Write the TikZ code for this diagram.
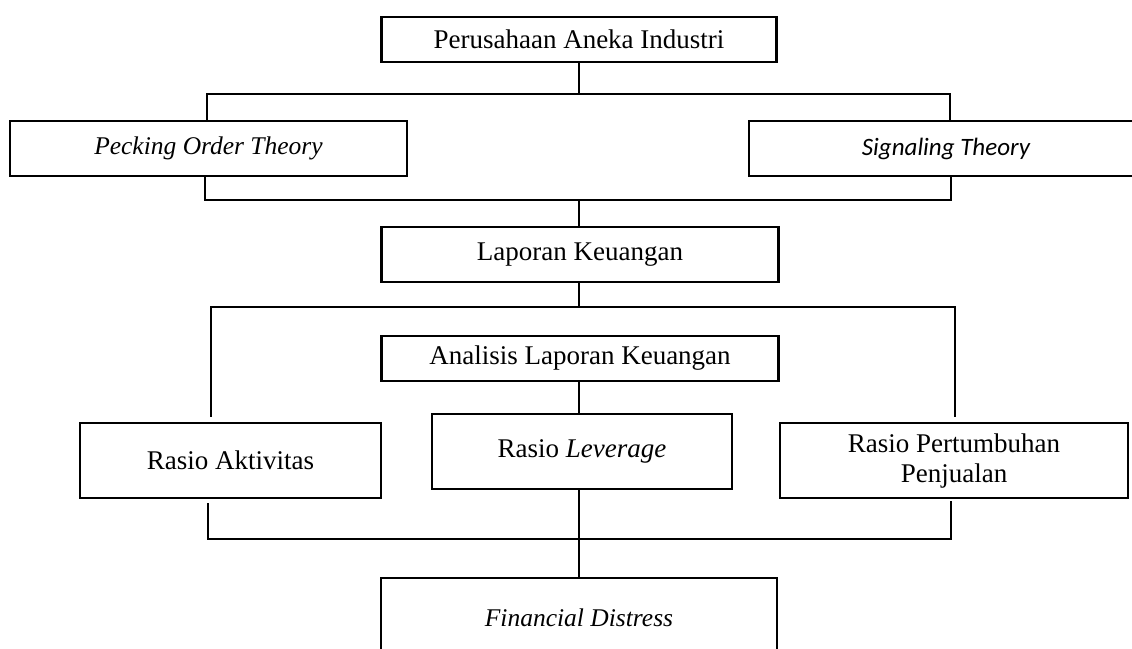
\documentclass[tikz,border=0pt]{standalone}
\usepackage{fontspec}
\setmainfont{Liberation Serif}
\newfontfamily\carlito{Carlito}
\usetikzlibrary{calc,positioning}

\begin{document}
\begin{tikzpicture}[x=1pt,y=-1pt,
    box/.style={draw,line width=2.6pt,inner sep=0pt,align=center,
        font=\fontsize{27}{30}\selectfont},
    itbox/.style={box,font=\itshape\fontsize{25.5}{30}\selectfont},
    conn/.style={line width=1.3pt}]
        \useasboundingbox (0,0) rectangle (1132,648);
        % boxes
        \node[box,minimum width=395pt,minimum height=45pt] (pai) at (579,39.5) {Perusahaan Aneka Industri};
        \node[itbox,minimum width=397pt,minimum height=55pt] (pot) at (208.5,148.5) {Pecking Order Theory};
        \node[box,minimum width=394pt,minimum height=55pt,font=\carlito\itshape\fontsize{25}{30}\selectfont] (sig) at (946,148.5) {Signaling Theory};
        \node[box,minimum width=397pt,minimum height=55pt] (lk) at (580,254.5) {Laporan Keuangan};
        \node[box,minimum width=397pt,minimum height=45pt] (alk) at (580,358.5) {\raisebox{-5pt}{Analisis Laporan Keuangan}};
        \node[box,minimum width=301pt,minimum height=75pt] (ra) at (230.5,460.5) {Rasio Aktivitas};
        \node[box,minimum width=300pt,minimum height=75pt] (rl) at (582,451.5) {Rasio \textit{Leverage}};
        \node[box,minimum width=348pt,minimum height=75pt] (rpp) at (954,460.5) {Rasio Pertumbuhan\\Penjualan};
        \node[itbox,minimum width=396pt,minimum height=84pt] (fd) at (579,620) {\raisebox{5pt}{Financial Distress}};
        % connectors
        \coordinate (t1) at (207,94);
        \coordinate (t2) at (950,94);
        \draw[conn] (pai.south) -- (pai.south |- t1);
        \draw[conn] (t1 |- pot.north) -- (t1) -- (t2) -- (t2 |- sig.north);
        \coordinate (b1) at (205,200);
        \coordinate (b2) at (951,200);
        \draw[conn] (b1 |- pot.south) -- (b1) -- (b2) -- (b2 |- sig.south);
        \draw[conn] (pai.south |- b1) -- (pai.south |- lk.north);
        \coordinate (m1) at (211,307);
        \coordinate (m2) at (955,307);
        \draw[conn] (lk.south -| pai.south) -- (pai.south |- m1);
        \draw[conn,shorten <=5pt,shorten >=5pt] (m1 |- ra.north) -- (m1) -- (m2) -- (m2 |- rpp.north);
        \draw[conn] (alk.south -| fd.north) -- (fd.north |- rl.north);
        \coordinate (l1) at (208,539);
        \coordinate (l2) at (951,539);
        \draw[conn,shorten <=4pt,shorten >=2pt] (l1 |- ra.south) -- (l1) -- (l2) -- (l2 |- rpp.south);
        \draw[conn] (fd.north |- rl.south) -- (fd.north);
    \end{tikzpicture}
\end{document}
